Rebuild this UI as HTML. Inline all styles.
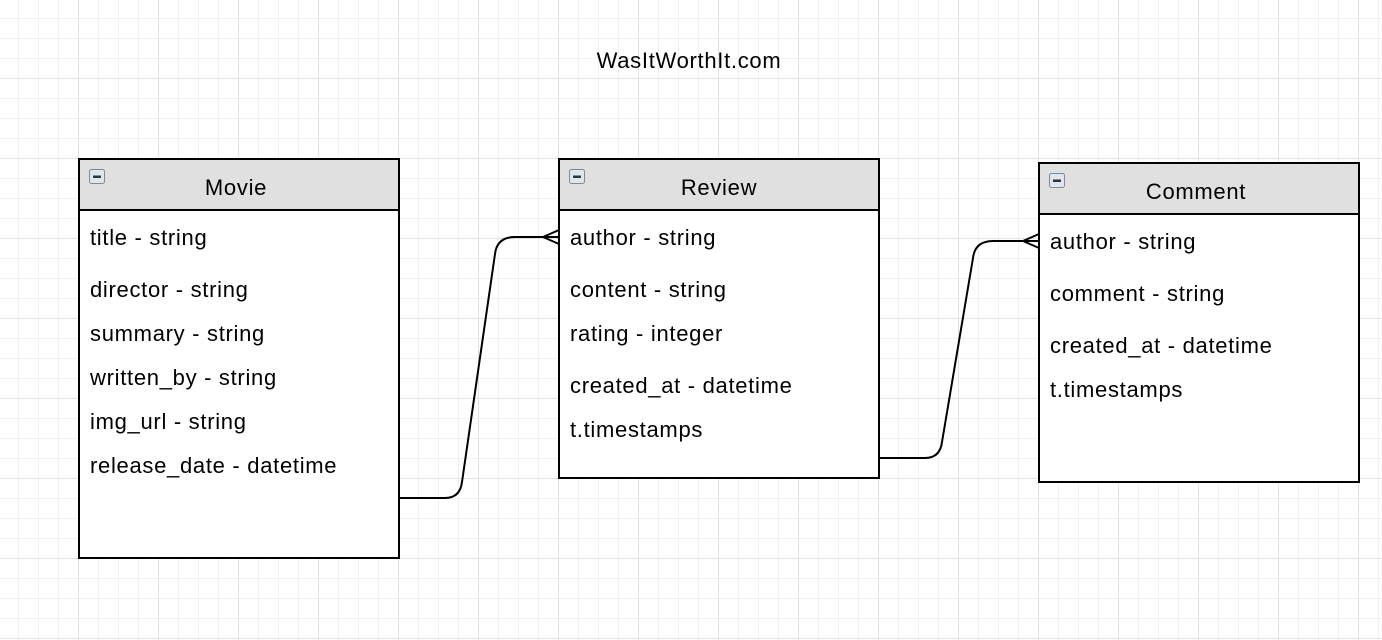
<!DOCTYPE html>
<html><head><meta charset="utf-8"><style>
html,body{margin:0;padding:0;background:#fff;}
svg{display:block;}
text{font-family:"Liberation Sans",Arial,sans-serif;font-size:22px;letter-spacing:0.7px;fill:#000;}
</style></head><body>
<svg width="1382" height="640" viewBox="0 0 1382 640" xmlns="http://www.w3.org/2000/svg">
<defs>
<pattern id="minor" x="18" y="18" width="20" height="20" patternUnits="userSpaceOnUse">
<path d="M0.5 0V20M0 0.5H20" stroke="#f1f1f1" stroke-width="1" fill="none"/>
</pattern>
<pattern id="major" x="78" y="78" width="80" height="80" patternUnits="userSpaceOnUse">
<path d="M0.5 0V80M0 0.5H80" stroke="#e2e2e2" stroke-width="1" fill="none"/>
</pattern>
<g id="icon">
<rect x="0.5" y="0.5" width="15" height="14" rx="2" fill="#dfe6ee" stroke="#7f8a96"/>
<rect x="4" y="6.5" width="8" height="2.5" fill="#333"/>
</g>
</defs>
<rect width="1382" height="640" fill="#fff"/>
<rect width="1382" height="640" fill="url(#minor)"/>
<rect width="1382" height="640" fill="url(#major)"/>

<text x="689" y="68" text-anchor="middle">WasItWorthIt.com</text>

<g fill="none" stroke="#000" stroke-width="2">
<path d="M399 498 H445 Q460 498 462 482 L495 254 Q497 237 515 237 H559"/>
<path d="M543 237 L559 230 M543 237 L559 244"/>
<path d="M879 458 H925 Q940 458 942 442 L973 258 Q975 241 993 241 H1039"/>
<path d="M1023 241 L1039 234 M1023 241 L1039 248"/>
</g>

<rect x="79" y="159" width="320" height="399" fill="#fff" stroke="#000" stroke-width="2"/>
<rect x="80" y="160" width="318" height="50" fill="#e0e0e0"/>
<line x1="79" y1="210" x2="399" y2="210" stroke="#000" stroke-width="2"/>
<use href="#icon" x="89" y="169"/>
<text x="236" y="195" text-anchor="middle">Movie</text>
<text x="90" y="245">title - string</text>
<text x="90" y="297">director - string</text>
<text x="90" y="341">summary - string</text>
<text x="90" y="385">written_by - string</text>
<text x="90" y="429">img_url - string</text>
<text x="90" y="473">release_date - datetime</text>

<rect x="559" y="159" width="320" height="319" fill="#fff" stroke="#000" stroke-width="2"/>
<rect x="560" y="160" width="318" height="50" fill="#e0e0e0"/>
<line x1="559" y1="210" x2="879" y2="210" stroke="#000" stroke-width="2"/>
<use href="#icon" x="569" y="169"/>
<text x="719" y="195" text-anchor="middle">Review</text>
<text x="570" y="245">author - string</text>
<text x="570" y="297">content - string</text>
<text x="570" y="341">rating - integer</text>
<text x="570" y="393">created_at - datetime</text>
<text x="570" y="437">t.timestamps</text>

<rect x="1039" y="163" width="320" height="319" fill="#fff" stroke="#000" stroke-width="2"/>
<rect x="1040" y="164" width="318" height="50" fill="#e0e0e0"/>
<line x1="1039" y1="214" x2="1359" y2="214" stroke="#000" stroke-width="2"/>
<use href="#icon" x="1049" y="173"/>
<text x="1196" y="199" text-anchor="middle">Comment</text>
<text x="1050" y="249">author - string</text>
<text x="1050" y="301">comment - string</text>
<text x="1050" y="353">created_at - datetime</text>
<text x="1050" y="397">t.timestamps</text>
</svg>
</body></html>
